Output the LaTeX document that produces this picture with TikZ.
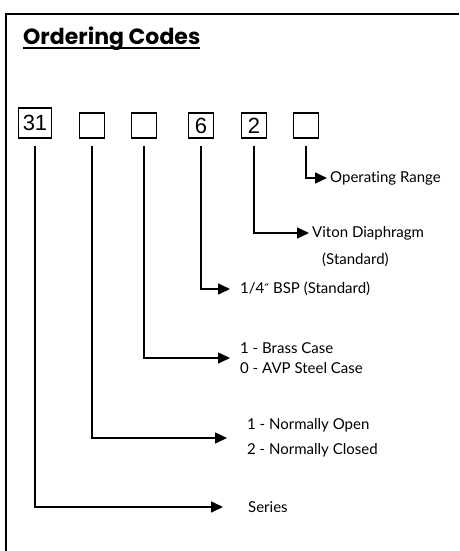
\documentclass[tikz,border=0pt]{standalone}
\usepackage{fontspec}
\setmainfont{Lato}[Ligatures=NoCommon]
\newfontfamily\titlefont{Poppins}
\newfontfamily\digitfont{Liberation Sans}
\newfontfamily\symfont{DejaVu Sans}
\usepackage{tikz}
\usetikzlibrary{arrows.meta, positioning}

\begin{document}
\begin{tikzpicture}[x=1pt, y=-1pt,
  codebox/.style={rectangle, draw, line width=1.3pt, minimum width=25pt, minimum height=25pt, inner sep=0pt, font=\digitfont\fontsize{22}{22}\selectfont},
  label/.style={anchor=west, inner sep=0pt, align=left, font=\fontsize{15}{22}\selectfont},
  arrow/.style={-{Triangle[length=12pt, width=11pt]}, line width=1.6pt, shorten <=7pt},
  frame/.style={line width=2.5pt}
]
\useasboundingbox (0,0) rectangle (459,551);
\draw[frame] (459,14) -- (6,14) -- (6,551);
\node[anchor=base west, inner sep=0pt, font=\titlefont\bfseries\fontsize{22}{22}\selectfont] (title) at (23,45) {Ordering Codes};
\draw[line width=1.3pt] ([yshift=-3pt]title.base west) -- ([yshift=-3pt]title.base east);
% code boxes
\node[codebox, minimum width=33pt, minimum height=30pt] (bser) at (35,123) {31};
\node[codebox] (bsw) at (92,125.5) {};
\node[codebox] (bcase) at (144,125.5) {};
\node[codebox] (bport) at (201,125.5) {6};
\node[codebox] (bdia) at (254,125.5) {2};
\node[codebox] (brange) at (306,125.5) {};
% meanings
\node[label] (range) at (330,178) {Operating Range};
\node[label] (viton) at (312,233) {Viton Diaphragm};
\node[label] (vitonstd) at (322,260) {(Standard)};
\node[label] (bsp) at (240,289) {1/4{\symfont\fontsize{13}{13}\selectfont ″} BSP (Standard)};
\node[label, font=\fontsize{15}{20}\selectfont] (casetype) at (240,358) {1 - Brass Case\\0 - AVP Steel Case};
\node[label, font=\fontsize{15}{25}\selectfont] (swtype) at (247,438) {1 - Normally Open\\2 - Normally Closed};
\node[label] (series) at (248,507) {Series};
\draw[arrow, shorten >=3pt] (brange) |- (range);
\draw[arrow, shorten >=3pt] (bdia) |- (viton);
\draw[arrow, shorten >=10pt] (bport) |- (bsp);
\draw[arrow, shorten >=10pt] (bcase) |- (casetype);
\draw[arrow, shorten >=20pt] (bsw) |- (swtype);
\draw[arrow, shorten >=25pt] (bser) |- (series);
\end{tikzpicture}
\end{document}
